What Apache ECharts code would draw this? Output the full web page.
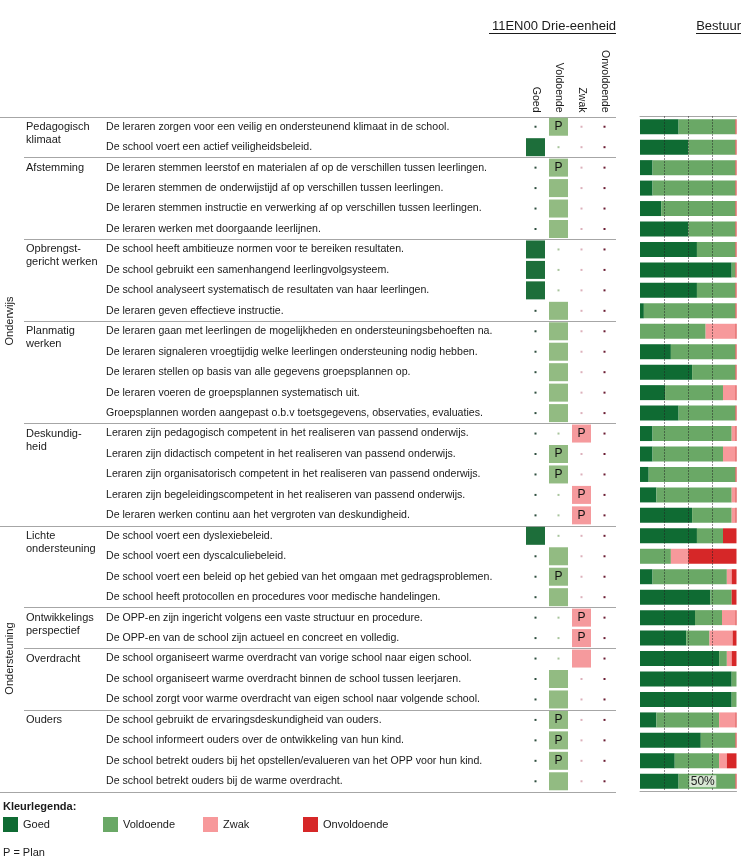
<!DOCTYPE html>
<html><head><meta charset="utf-8">
<script src="https://cdn.jsdelivr.net/npm/echarts@6/dist/echarts.min.js"></script>
<style>html,body{margin:0;padding:0;background:#fff}#c{width:747px;height:864px}</style>
</head><body><div id="c"></div>
<script>
const items = [
"De leraren zorgen voor een veilig en ondersteunend klimaat in de school.",
"De school voert een actief veiligheidsbeleid.",
"De leraren stemmen leerstof en materialen af op de verschillen tussen leerlingen.",
"De leraren stemmen de onderwijstijd af op verschillen tussen leerlingen.",
"De leraren stemmen instructie en verwerking af op verschillen tussen leerlingen.",
"De leraren werken met doorgaande leerlijnen.",
"De school heeft ambitieuze normen voor te bereiken resultaten.",
"De school gebruikt een samenhangend leerlingvolgsysteem.",
"De school analyseert systematisch de resultaten van haar leerlingen.",
"De leraren geven effectieve instructie.",
"De leraren gaan met leerlingen de mogelijkheden en ondersteuningsbehoeften na.",
"De leraren signaleren vroegtijdig welke leerlingen ondersteuning nodig hebben.",
"De leraren stellen op basis van alle gegevens groepsplannen op.",
"De leraren voeren de groepsplannen systematisch uit.",
"Groepsplannen worden aangepast o.b.v toetsgegevens, observaties, evaluaties.",
"Leraren zijn pedagogisch competent in het realiseren van passend onderwijs.",
"Leraren zijn didactisch competent in het realiseren van passend onderwijs.",
"Leraren zijn organisatorisch competent in het realiseren van passend onderwijs.",
"Leraren zijn begeleidingscompetent in het realiseren van passend onderwijs.",
"De leraren werken continu aan het vergroten van deskundigheid.",
"De school voert een dyslexiebeleid.",
"De school voert een dyscalculiebeleid.",
"De school voert een beleid op het gebied van het omgaan met gedragsproblemen.",
"De school heeft protocollen en procedures voor medische handelingen.",
"De OPP-en zijn ingericht volgens een vaste structuur en procedure.",
"De OPP-en van de school zijn actueel en concreet en volledig.",
"De school organiseert warme overdracht van vorige school naar eigen school.",
"De school organiseert warme overdracht binnen de school tussen leerjaren.",
"De school zorgt voor warme overdracht van eigen school naar volgende school.",
"De school gebruikt de ervaringsdeskundigheid van ouders.",
"De school informeert ouders over de ontwikkeling van hun kind.",
"De school betrekt ouders bij het opstellen/evalueren van het OPP voor hun kind.",
"De school betrekt ouders bij de warme overdracht."
];
const groupNames = ["Pedagogisch\nklimaat","Afstemming","Opbrengst-\ngericht werken","Planmatig\nwerken","Deskundig-\nheid","Lichte\nondersteuning","Ontwikkelings\nperspectief","Overdracht","Ouders"];
const groupSizes = [2,4,4,5,5,4,2,3,4];
const sectionNames = ["Onderwijs","Ondersteuning"];
const sectionSizes = [20,13];
const columns = ["Goed","Voldoende","Zwak","Onvoldoende"];
// 0=Goed 1=Voldoende 2=Zwak 3=Onvoldoende
const rating = [1,0,1,1,1,1,0,0,0,1, 1,1,1,1,1, 2,1,1,2,2, 0,1,1,1, 2,2, 2,1,1, 1,1,1,1];
const plan   = [1,0,1,0,0,0,0,0,0,0, 0,0,0,0,0, 1,1,1,1,1, 0,0,1,0, 1,1, 0,0,0, 1,1,1,0];
// Bestuur distribution (%)
const goed        = [40,50,13,13,22,50,59,95,59,4, 0,32,54,26,40, 13,13,9,17,54, 59,0,13,73, 57,48, 82,95,95, 17,63,36,40];
const voldoende   = [59,49,86,86,77,49,40,4,40,95, 68,67,45,60,59, 82,73,90,78,41, 27,32,77,22, 28,24, 8,5,5, 65,36,46,59];
const zwak        = [0,0,0,0,0,0,0,0,0,0, 31,0,0,13,0, 4,13,0,4,4, 0,18,5,0, 14,24, 5,0,0, 17,0,8,0];
const onvoldoende = [1,1,1,1,1,1,1,1,1,1, 1,1,1,1,1, 1,1,1,1,1, 14,50,5,5, 1,4, 5,0,0, 1,1,10,1];
const gridLines = [25,50,75];
const medianLabel = "50%";

const FONT = "'Liberation Sans', Arial, sans-serif";
const FS = 10.6;
const TXT = '#1a1a1a';
const LINE = '#a6a6a6';
const barColors = ['#0f6b33','#6aa866','#f7999b','#d62728'];
const squareColors = ['#1d6e3a','#92bb82','#f59a9d','#d62728'];
const dotColors = ['#2f4f3f','#a8c49c','#dcb0bb','#6b1d33'];

const squares = [], dots = [];
items.forEach((t, r) => {
  columns.forEach((c, ci) => {
    if (ci === rating[r]) squares.push({value:[ci, r], p: plan[r], itemStyle:{color:squareColors[ci], opacity:1}});
    else dots.push({value:[ci, r], itemStyle:{color:dotColors[ci], opacity:1}});
  });
});

const TOP = 116.5, H = 675;
const chart = echarts.init(document.getElementById('c'), null, {renderer:'canvas'});
const barSeries = [goed, voldoende, zwak, onvoldoende].map((d, i) => ({
  name: columns[i], type:'bar', stack:'b', xAxisIndex:1, yAxisIndex:1, barWidth:15,
  itemStyle:{color:barColors[i]}, data:d, silent:true, animation:false
}));
barSeries[3].markLine = {
  silent:true, symbol:'none', animation:false, label:{show:false}, z:10,
  lineStyle:{type:[1,2], color:'#222', width:1, opacity:1},
  emphasis:{disabled:true},
  data: gridLines.map(v => ({xAxis:v}))
};

const legends = columns.map((c, i) => ({
  left:3 + i * 100, top:817, itemWidth:15, itemHeight:15, icon:'rect', padding:0, selectedMode:false,
  textStyle:{fontSize:11, color:TXT, fontFamily:FONT}, data:[c]
}));

chart.setOption({
  animation:false,
  textStyle:{fontFamily:FONT},
  grid:[
    {left:524, width:92, top:TOP, height:H},
    {left:640, width:96.5, top:TOP, height:H}
  ],
  xAxis:[
    {gridIndex:0, type:'category', data:columns, position:'top',
     axisLine:{show:false}, axisTick:{show:false},
     axisLabel:{rotate:90, margin:4, fontSize:10.5, color:TXT, fontFamily:FONT, interval:0}},
    {gridIndex:1, type:'value', min:0, max:100, position:'bottom',
     axisLine:{show:true, lineStyle:{color:LINE}}, axisTick:{show:false}, axisLabel:{show:false}, splitLine:{show:false}},
    {gridIndex:1, type:'value', min:0, max:100, position:'top',
     axisLine:{show:true, lineStyle:{color:LINE}}, axisTick:{show:false}, axisLabel:{show:false}, splitLine:{show:false}}
  ],
  yAxis:[
    {gridIndex:0, type:'category', data:items, inverse:true,
     axisLine:{show:false}, axisTick:{show:false},
     axisLabel:{align:'left', margin:418, fontSize:FS, color:TXT, fontFamily:FONT, interval:0}},
    {gridIndex:1, type:'category', data:items, inverse:true, show:false}
  ],
  legend:legends,
  series:[
    {type:'scatter', xAxisIndex:0, yAxisIndex:0, symbol:'rect', symbolSize:[19,18], data:squares, silent:true,
     itemStyle:{opacity:1},
     label:{show:true, position:'inside', formatter:p => p.data.p ? 'P' : '', fontSize:12, color:'#111', fontFamily:FONT}},
    {type:'scatter', xAxisIndex:0, yAxisIndex:0, symbol:'rect', symbolSize:2, data:dots, silent:true, itemStyle:{opacity:1}},
    ...barSeries
  ]
});

// decorations computed from the axes
const rowY = i => chart.convertToPixel({yAxisIndex:0}, i);
const rh = rowY(1) - rowY(0);
const bound = i => rowY(i) - rh/2;
const g = [];
const hline = (y, x1, x2) => g.push({type:'line', shape:{x1, y1:Math.round(y)+0.5, x2, y2:Math.round(y)+0.5}, style:{stroke:LINE, lineWidth:1}, silent:true});
const txt = (x, y, text, extra) => g.push(Object.assign({type:'text', x, y, z:100, silent:true,
  style:Object.assign({text, fill:TXT, font:FS + 'px ' + FONT, textVerticalAlign:'middle', verticalAlign:'middle'}, extra && extra.style)}, extra && extra.el));

// section separators and labels
let start = 0;
sectionSizes.forEach((n, s) => {
  hline(bound(start), 0, 616);
  const yc = (bound(start) + bound(start + n)) / 2;
  g.push({type:'text', x:10, y:yc, rotation:Math.PI/2, silent:true,
    style:{text:sectionNames[s], fill:TXT, font:'11px ' + FONT, textAlign:'center', align:'center', textVerticalAlign:'middle', verticalAlign:'middle'}});
  start += n;
});
hline(bound(start), 0, 616);
// group separators and labels
start = 0;
groupSizes.forEach((n, k) => {
  if (start !== 0 && start !== sectionSizes[0]) hline(bound(start), 24, 616);
  const lines = groupNames[k].split('\n');
  lines.forEach((l, j) => txt(26, rowY(start) + j * 13, l, {style:{font:'11px ' + FONT}}));
  start += n;
});
// headers
txt(616, 26, '11EN00 Drie-eenheid', {style:{font:'13px ' + FONT, textAlign:'right', align:'right'}});
g.push({type:'line', shape:{x1:489, y1:33.5, x2:616, y2:33.5}, style:{stroke:TXT, lineWidth:1}, silent:true});
txt(741, 26, 'Bestuur', {style:{font:'13px ' + FONT, textAlign:'right', align:'right'}});
g.push({type:'line', shape:{x1:696, y1:33.5, x2:741, y2:33.5}, style:{stroke:TXT, lineWidth:1}, silent:true});
// 50% label
const p50 = chart.convertToPixel({xAxisIndex:1, yAxisIndex:1}, [50, items.length - 1]);
g.push({type:'rect', z:99, silent:true, shape:{x:p50[0] + 1, y:p50[1] - 6, width:27, height:12},
  style:{fill:'rgba(235,242,232,0.85)'}});
txt(p50[0] + 14.5, p50[1] + 0.5, medianLabel, {style:{font:'12px ' + FONT, fill:'#222', textAlign:'center', align:'center'}});
// legend caption
txt(3, 807, 'Kleurlegenda:', {style:{font:'bold 11px ' + FONT}});
txt(3, 853, 'P = Plan', {style:{font:'11px ' + FONT}});

chart.setOption({graphic:{elements:g}});
</script></body></html>
